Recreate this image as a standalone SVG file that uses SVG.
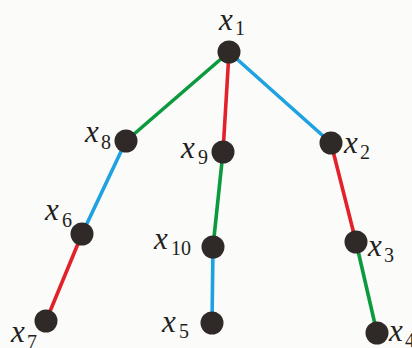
<svg xmlns="http://www.w3.org/2000/svg" width="412" height="348" viewBox="0 0 412 348">
<style>
.e{stroke-width:3.6;stroke-linecap:round;fill:none}
.g{stroke:#0b9a3e}
.r{stroke:#e2212b}
.b{stroke:#1ea2e2}
.n{fill:#2f2a27}
text{font-family:'Liberation Serif',serif;fill:#231f20}
.v{font-style:italic;font-size:31px}
.s{font-size:20px}
</style>
<rect width="412" height="348" fill="#fbfbf9"/>
<g id="edges">
<line class="e g" x1="229" y1="52" x2="126" y2="141"/>
<line class="e r" x1="229" y1="52" x2="223" y2="152"/>
<line class="e b" x1="229" y1="52" x2="331" y2="143"/>
<line class="e b" x1="126" y1="141" x2="82" y2="234"/>
<line class="e r" x1="82" y1="234" x2="46" y2="321"/>
<line class="e g" x1="223" y1="152" x2="213" y2="247"/>
<line class="e b" x1="213" y1="247" x2="212" y2="323"/>
<line class="e r" x1="331" y1="143" x2="356" y2="242"/>
<line class="e g" x1="356" y1="242" x2="377" y2="333"/>
</g>
<g id="x1"><circle class="n" cx="229" cy="52" r="11.5"/><text class="v" x="219" y="30">x</text><text class="s" x="235" y="35">1</text></g>
<g id="x8"><circle class="n" cx="126" cy="141" r="11.5"/><text class="v" x="85" y="142">x</text><text class="s" x="101" y="149">8</text></g>
<g id="x9"><circle class="n" cx="223" cy="152" r="11.5"/><text class="v" x="181" y="158">x</text><text class="s" x="198" y="164">9</text></g>
<g id="x2"><circle class="n" cx="331" cy="143" r="11.5"/><text class="v" x="344" y="153">x</text><text class="s" x="360" y="159">2</text></g>
<g id="x6"><circle class="n" cx="82" cy="234" r="11.5"/><text class="v" x="45" y="220">x</text><text class="s" x="62" y="227">6</text></g>
<g id="x10"><circle class="n" cx="213" cy="247" r="11.5"/><text class="v" x="154" y="249">x</text><text class="s" x="171" y="255">10</text></g>
<g id="x3"><circle class="n" cx="356" cy="242" r="11.5"/><text class="v" x="368" y="256">x</text><text class="s" x="384" y="262">3</text></g>
<g id="x7"><circle class="n" cx="46" cy="321" r="11.5"/><text class="v" x="11" y="342">x</text><text class="s" x="27" y="349">7</text></g>
<g id="x5"><circle class="n" cx="212" cy="323" r="11.5"/><text class="v" x="162" y="332">x</text><text class="s" x="179" y="338">5</text></g>
<g id="x4"><circle class="n" cx="377" cy="333" r="11.5"/><text class="v" x="389" y="341">x</text><text class="s" x="405" y="347">4</text></g>
</svg>
